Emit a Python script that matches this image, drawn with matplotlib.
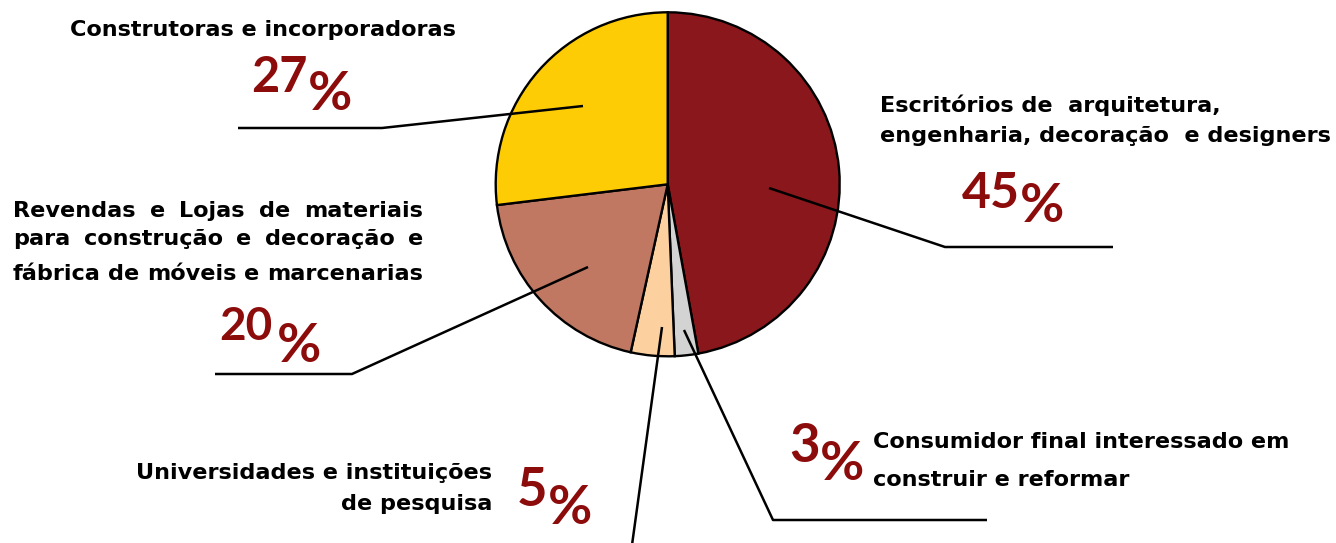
import matplotlib
matplotlib.use('Agg')
import matplotlib.pyplot as plt

# ---- data ----
categories = [
    'Escritórios de  arquitetura,\nengenharia, decoração  e designers',
    'Consumidor final interessado em\nconstruir e reformar',
    'Universidades e instituições\nde pesquisa',
    'Revendas e Lojas de materiais\npara construção e decoração e\nfábrica de móveis e marcenarias',
    'Construtoras e incorporadoras',
]
shares = [47.1, 2.2, 4.1, 19.6, 26.9]          # slice sizes as drawn
pct_labels = ['45', '3', '5', '20', '27']        # printed percentages
colors = ['#8A171B', '#D3D3D3', '#FDD0A0', '#C07862', '#FECC05']

W, H = 1336, 543
fig = plt.figure(figsize=(W / 100, H / 100), dpi=100)
fig.patch.set_facecolor('white')

# pie axes
cx, cy, r = 667.7, 184.3, 172
pax = fig.add_axes([(cx - r) / W, 1 - (cy + r) / H, 2 * r / W, 2 * r / H])
wedges, _ = pax.pie(shares, colors=colors, startangle=90, counterclock=False,
                    wedgeprops=dict(edgecolor='black', linewidth=1.7))
for w in wedges:
    w.set_clip_on(False)
pax.set_xlim(-1, 1)
pax.set_ylim(-1, 1)
pax.axis('off')

# overlay axes in pixel coordinates
ax = fig.add_axes([0, 0, 1, 1])
ax.set_xlim(0, W)
ax.set_ylim(H, 0)
ax.axis('off')
ax.patch.set_alpha(0)

LW = 1.8
# leader lines
ax.plot([769, 945, 1113], [188, 247, 247], color='black', lw=LW, solid_capstyle='butt')
ax.plot([684, 773, 987], [330, 520, 520], color='black', lw=LW, solid_capstyle='butt')
ax.plot([662, 632], [327, 545], color='black', lw=LW, solid_capstyle='butt')
ax.plot([588, 352, 215], [267, 374, 374], color='black', lw=LW, solid_capstyle='butt')
ax.plot([583, 382, 238], [106, 128, 128], color='black', lw=LW, solid_capstyle='butt')

LBL = dict(family=['DejaVu Sans'], weight='bold', fontsize=16.1,
           color='black', va='baseline')
PCT = '#8C0B0B'
NUMFAM = ['Lato', 'DejaVu Sans']
renderer = fig.canvas.get_renderer()


def pct(label, x, ycen, pcen, size, psize, gap=2):
    cap = size * 100 / 72 * 0.72
    t = ax.text(x, ycen + cap / 2, label, fontsize=size, family=NUMFAM, weight='bold',
                color=PCT, va='baseline', ha='left')
    bb = t.get_window_extent(renderer)
    pcap = psize * 100 / 72 * 0.72
    ax.text(x + bb.width + gap, pcen + pcap / 2, '%', fontsize=psize, family=NUMFAM,
            weight='bold', color=PCT, va='baseline', ha='left')


# right label (45%)
l0 = categories[0].split('\n')
ax.text(880, 112, l0[0], ha='left', **LBL)
ax.text(880, 142, l0[1], ha='left', **LBL)
pct(pct_labels[0], 962, 190, 203, 36, 39, gap=0)

# consumidor (3%)
l1 = categories[1].split('\n')
ax.text(873, 448, l1[0], ha='left', **LBL)
ax.text(873, 486, l1[1], ha='left', **LBL)
pct(pct_labels[1], 789, 443, 461, 38, 39, gap=0)

# universidades (5%)
l2 = categories[2].split('\n')
ax.text(492, 479, l2[0], ha='right', **LBL)
ax.text(492, 510, l2[1], ha='right', **LBL)
pct(pct_labels[2], 517, 487, 504, 38, 39, gap=0)

# revendas (20%) - justified block
x0, x1 = 13, 423
for line, yb in zip(categories[3].split('\n'), [217, 245, 280]):
    words = line.split(' ')
    ts = [ax.text(0, yb, wd, ha='left', **LBL) for wd in words]
    widths = [t.get_window_extent(renderer).width for t in ts]
    gap = (x1 - x0 - sum(widths)) / (len(words) - 1)
    x = x0
    for t, wdt in zip(ts, widths):
        t.set_x(x)
        x += wdt + gap
pct(pct_labels[3], 219, 324, 342, 33, 39, gap=5)

# construtoras (27%)
ax.text(263, 36, categories[4], ha='center', **LBL)
pct(pct_labels[4], 251, 74, 91, 35, 39, gap=0)

fig.savefig('out.png', dpi=100, facecolor='white')
